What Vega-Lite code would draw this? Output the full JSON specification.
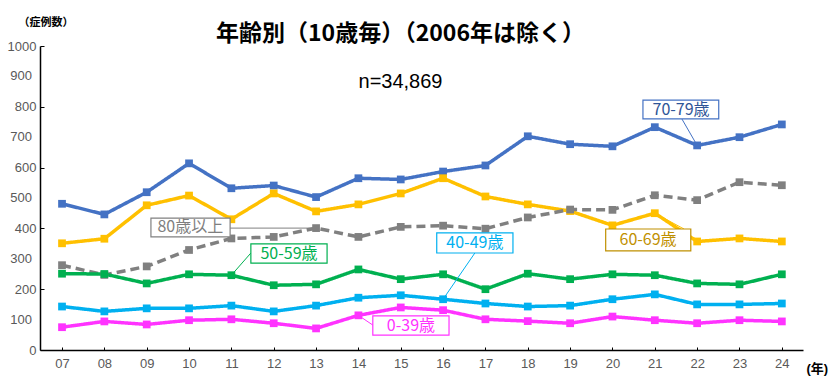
{
  "$schema": "https://vega.github.io/schema/vega-lite/v6.json",
  "width": 763,
  "height": 304,
  "autosize": "none",
  "padding": {"left": 40, "top": 46, "right": 33, "bottom": 32},
  "background": "white",
  "config": {
    "view": {"stroke": null},
    "font": "Liberation Sans, Noto Sans CJK JP",
    "axis": {"labelOverlap": false, "grid": false, "labelFlush": false, "domainColor": "#000000", "domainWidth": 1.5, "tickColor": "#000000", "labelFontSize": 13, "labelColor": "#595959", "labelFont": "Liberation Sans"},
    "axisY": {"tickCount": 10, "tickSize": -4, "labelPadding": 8},
    "axisX": {"tickSize": -3, "labelPadding": 10}
  },
  "title": {
    "text": "年齢別（10歳毎）（2006年は除く）",
    "subtitle": "n=34,869",
    "anchor": "middle",
    "dx": -21,
    "offset": -76,
    "font": "Noto Sans CJK JP",
    "fontSize": 23,
    "fontWeight": "bold",
    "color": "#000000",
    "subtitleFont": "Liberation Sans Narrow, Liberation Sans",
    "subtitleFontSize": 20,
    "subtitleColor": "#000000",
    "subtitlePadding": 26
  },
  "datasets": {
    "series": [
      {"year": 7, "group": "70-79歳", "cases": 481},
      {"year": 8, "group": "70-79歳", "cases": 446},
      {"year": 9, "group": "70-79歳", "cases": 519},
      {"year": 10, "group": "70-79歳", "cases": 614},
      {"year": 11, "group": "70-79歳", "cases": 532},
      {"year": 12, "group": "70-79歳", "cases": 541},
      {"year": 13, "group": "70-79歳", "cases": 503},
      {"year": 14, "group": "70-79歳", "cases": 565},
      {"year": 15, "group": "70-79歳", "cases": 561},
      {"year": 16, "group": "70-79歳", "cases": 587},
      {"year": 17, "group": "70-79歳", "cases": 607},
      {"year": 18, "group": "70-79歳", "cases": 703},
      {"year": 19, "group": "70-79歳", "cases": 677},
      {"year": 20, "group": "70-79歳", "cases": 670},
      {"year": 21, "group": "70-79歳", "cases": 733},
      {"year": 22, "group": "70-79歳", "cases": 673},
      {"year": 23, "group": "70-79歳", "cases": 700},
      {"year": 24, "group": "70-79歳", "cases": 742},
      {"year": 7, "group": "60-69歳", "cases": 351},
      {"year": 8, "group": "60-69歳", "cases": 366},
      {"year": 9, "group": "60-69歳", "cases": 476},
      {"year": 10, "group": "60-69歳", "cases": 508},
      {"year": 11, "group": "60-69歳", "cases": 430},
      {"year": 12, "group": "60-69歳", "cases": 515},
      {"year": 13, "group": "60-69歳", "cases": 456},
      {"year": 14, "group": "60-69歳", "cases": 479},
      {"year": 15, "group": "60-69歳", "cases": 515},
      {"year": 16, "group": "60-69歳", "cases": 565},
      {"year": 17, "group": "60-69歳", "cases": 505},
      {"year": 18, "group": "60-69歳", "cases": 479},
      {"year": 19, "group": "60-69歳", "cases": 457},
      {"year": 20, "group": "60-69歳", "cases": 410},
      {"year": 21, "group": "60-69歳", "cases": 450},
      {"year": 22, "group": "60-69歳", "cases": 357},
      {"year": 23, "group": "60-69歳", "cases": 367},
      {"year": 24, "group": "60-69歳", "cases": 357},
      {"year": 7, "group": "80歳以上", "cases": 279},
      {"year": 8, "group": "80歳以上", "cases": 247},
      {"year": 9, "group": "80歳以上", "cases": 275},
      {"year": 10, "group": "80歳以上", "cases": 329},
      {"year": 11, "group": "80歳以上", "cases": 367},
      {"year": 12, "group": "80歳以上", "cases": 372},
      {"year": 13, "group": "80歳以上", "cases": 401},
      {"year": 14, "group": "80歳以上", "cases": 372},
      {"year": 15, "group": "80歳以上", "cases": 405},
      {"year": 16, "group": "80歳以上", "cases": 409},
      {"year": 17, "group": "80歳以上", "cases": 399},
      {"year": 18, "group": "80歳以上", "cases": 436},
      {"year": 19, "group": "80歳以上", "cases": 462},
      {"year": 20, "group": "80歳以上", "cases": 461},
      {"year": 21, "group": "80歳以上", "cases": 509},
      {"year": 22, "group": "80歳以上", "cases": 493},
      {"year": 23, "group": "80歳以上", "cases": 552},
      {"year": 24, "group": "80歳以上", "cases": 542},
      {"year": 7, "group": "50-59歳", "cases": 251},
      {"year": 8, "group": "50-59歳", "cases": 250},
      {"year": 9, "group": "50-59歳", "cases": 219},
      {"year": 10, "group": "50-59歳", "cases": 249},
      {"year": 11, "group": "50-59歳", "cases": 246},
      {"year": 12, "group": "50-59歳", "cases": 213},
      {"year": 13, "group": "50-59歳", "cases": 216},
      {"year": 14, "group": "50-59歳", "cases": 265},
      {"year": 15, "group": "50-59歳", "cases": 233},
      {"year": 16, "group": "50-59歳", "cases": 249},
      {"year": 17, "group": "50-59歳", "cases": 200},
      {"year": 18, "group": "50-59歳", "cases": 251},
      {"year": 19, "group": "50-59歳", "cases": 233},
      {"year": 20, "group": "50-59歳", "cases": 249},
      {"year": 21, "group": "50-59歳", "cases": 246},
      {"year": 22, "group": "50-59歳", "cases": 219},
      {"year": 23, "group": "50-59歳", "cases": 216},
      {"year": 24, "group": "50-59歳", "cases": 249},
      {"year": 7, "group": "40-49歳", "cases": 143},
      {"year": 8, "group": "40-49歳", "cases": 127},
      {"year": 9, "group": "40-49歳", "cases": 137},
      {"year": 10, "group": "40-49歳", "cases": 137},
      {"year": 11, "group": "40-49歳", "cases": 146},
      {"year": 12, "group": "40-49歳", "cases": 127},
      {"year": 13, "group": "40-49歳", "cases": 146},
      {"year": 14, "group": "40-49歳", "cases": 172},
      {"year": 15, "group": "40-49歳", "cases": 180},
      {"year": 16, "group": "40-49歳", "cases": 167},
      {"year": 17, "group": "40-49歳", "cases": 153},
      {"year": 18, "group": "40-49歳", "cases": 143},
      {"year": 19, "group": "40-49歳", "cases": 146},
      {"year": 20, "group": "40-49歳", "cases": 167},
      {"year": 21, "group": "40-49歳", "cases": 183},
      {"year": 22, "group": "40-49歳", "cases": 150},
      {"year": 23, "group": "40-49歳", "cases": 150},
      {"year": 24, "group": "40-49歳", "cases": 153},
      {"year": 7, "group": "0-39歳", "cases": 75},
      {"year": 8, "group": "0-39歳", "cases": 94},
      {"year": 9, "group": "0-39歳", "cases": 84},
      {"year": 10, "group": "0-39歳", "cases": 98},
      {"year": 11, "group": "0-39歳", "cases": 101},
      {"year": 12, "group": "0-39歳", "cases": 88},
      {"year": 13, "group": "0-39歳", "cases": 71},
      {"year": 14, "group": "0-39歳", "cases": 114},
      {"year": 15, "group": "0-39歳", "cases": 140},
      {"year": 16, "group": "0-39歳", "cases": 131},
      {"year": 17, "group": "0-39歳", "cases": 101},
      {"year": 18, "group": "0-39歳", "cases": 95},
      {"year": 19, "group": "0-39歳", "cases": 88},
      {"year": 20, "group": "0-39歳", "cases": 110},
      {"year": 21, "group": "0-39歳", "cases": 98},
      {"year": 22, "group": "0-39歳", "cases": 88},
      {"year": 23, "group": "0-39歳", "cases": 98},
      {"year": 24, "group": "0-39歳", "cases": 94}
    ],
    "labels": [
      {"group": "70-79歳", "bx1": 20.72, "bx2": 22.51, "by1": 822, "by2": 760, "tx": 21.62, "ty": 791, "lx": 21.64, "ly": 760, "px": 22, "py": 673},
      {"group": "60-69歳", "bx1": 19.84, "bx2": 21.85, "by1": 398, "by2": 326, "tx": 20.84, "ty": 362, "lx": 21.69, "ly": 398, "px": 21, "py": 450},
      {"group": "80歳以上", "bx1": 9.1, "bx2": 10.97, "by1": 434, "by2": 372, "tx": 10.03, "ty": 403, "lx": 10.97, "ly": 401, "px": 13, "py": 401},
      {"group": "50-59歳", "bx1": 11.46, "bx2": 13.26, "by1": 349, "by2": 286, "tx": 12.36, "ty": 317, "lx": 11.46, "ly": 319, "px": 11, "py": 246},
      {"group": "40-49歳", "bx1": 15.85, "bx2": 17.65, "by1": 385, "by2": 319, "tx": 16.75, "ty": 352, "lx": 16.75, "ly": 319, "px": 16, "py": 167},
      {"group": "0-39歳", "bx1": 14.34, "bx2": 16.14, "by1": 112, "by2": 49, "tx": 15.24, "ty": 80, "lx": 14.34, "ly": 82, "px": 14, "py": 114}
    ],
    "oddTicks": [
      {"tick": 100},
      {"tick": 300},
      {"tick": 500},
      {"tick": 700},
      {"tick": 900}
    ]
  },
  "resolve": {"scale": {"strokeDash": "independent"}, "axis": {"x": "independent", "y": "independent"}},
  "layer": [
    {
      "data": {"name": "series"},
      "mark": {"type": "line", "strokeWidth": 3.5, "point": {"shape": "square", "size": 60, "filled": true, "opacity": 1}},
      "encoding": {
        "x": {
          "field": "year", "type": "quantitative",
          "scale": {"domain": [6.48, 24.5], "nice": false, "zero": false},
          "axis": {
            "values": [7, 8, 9, 10, 11, 12, 13, 14, 15, 16, 17, 18, 19, 20, 21, 22, 23, 24],
            "labelExpr": "datum.value < 10 ? '0' + datum.value : '' + datum.value",
            "title": "(年)",
            "titleFont": "Liberation Sans, Noto Sans CJK JP",
            "titleFontSize": 13,
            "titleFontWeight": "bold",
            "titleColor": "#000000",
            "titleAnchor": "end",
            "titleAlign": "left",
            "titleBaseline": "middle",
            "titleX": 766,
            "titleY": 18
          }
        },
        "y": {
          "field": "cases", "type": "quantitative",
          "scale": {"domain": [0, 1000], "nice": false},
          "axis": {
            "values": [0, 100, 200, 300, 400, 500, 600, 700, 800, 900, 1000],
            "tickCount": 10,
            "labelExpr": "'' + datum.value",
            "labelOverlap": false,
            "labelBound": false,
            "labelSeparation": 0,
            "title": "（症例数）",
            "titleFont": "Noto Sans CJK JP",
            "titleFontSize": 11,
            "titleFontWeight": "bold",
            "titleColor": "#000000",
            "titleAngle": 0,
            "titleAlign": "left",
            "titleBaseline": "middle",
            "titleX": -22,
            "titleY": -24
          }
        },
        "color": {
          "field": "group", "type": "nominal",
          "scale": {
            "domain": ["70-79歳", "60-69歳", "80歳以上", "50-59歳", "40-49歳", "0-39歳"],
            "range": ["#4472C4", "#FFC000", "#808080", "#00B050", "#00B0F0", "#FF33FF"]
          },
          "legend": null
        },
        "strokeDash": {
          "field": "group", "type": "nominal",
          "scale": {
            "domain": ["70-79歳", "60-69歳", "80歳以上", "50-59歳", "40-49歳", "0-39歳"],
            "range": [[1, 0], [1, 0], [9, 5], [1, 0], [1, 0], [1, 0]]
          },
          "legend": null
        }
      }
    },
    {
      "data": {"name": "oddTicks"},
      "mark": {"type": "text", "align": "right", "baseline": "middle", "dx": -8, "font": "Liberation Sans", "fontSize": 13, "color": "#595959"},
      "encoding": {
        "x": {"datum": 6.48, "type": "quantitative", "axis": null},
        "y": {"field": "tick", "type": "quantitative", "axis": null},
        "text": {"field": "tick", "type": "quantitative", "format": "d"}
      }
    },
    {
      "data": {"name": "labels"},
      "mark": {"type": "rule", "strokeWidth": 1},
      "encoding": {
        "x": {"field": "lx", "type": "quantitative", "axis": null},
        "y": {"field": "ly", "type": "quantitative", "axis": null},
        "x2": {"field": "px"},
        "y2": {"field": "py"},
        "color": {"field": "group", "type": "nominal", "legend": null}
      }
    },
    {
      "data": {"name": "labels"},
      "mark": {"type": "rect", "fill": "white", "strokeWidth": 1.2},
      "encoding": {
        "x": {"field": "bx1", "type": "quantitative", "axis": null},
        "x2": {"field": "bx2"},
        "y": {"field": "by1", "type": "quantitative", "axis": null},
        "y2": {"field": "by2"},
        "stroke": {
          "field": "group", "type": "nominal",
          "scale": {
            "domain": ["70-79歳", "60-69歳", "80歳以上", "50-59歳", "40-49歳", "0-39歳"],
            "range": ["#4472C4", "#BF9000", "#808080", "#00B050", "#00B0F0", "#FF33FF"]
          },
          "legend": null
        },
        "strokeDash": {
          "field": "group", "type": "nominal",
          "scale": {
            "domain": ["70-79歳", "60-69歳", "80歳以上", "50-59歳", "40-49歳", "0-39歳"],
            "range": [[1, 0], [1, 0], [3, 2], [1, 0], [1, 0], [1, 0]]
          },
          "legend": null
        }
      }
    },
    {
      "data": {"name": "labels"},
      "mark": {"type": "text", "font": "Liberation Sans Narrow, Noto Sans CJK JP", "fontSize": 16, "align": "center", "baseline": "middle"},
      "encoding": {
        "x": {"field": "tx", "type": "quantitative", "axis": null},
        "y": {"field": "ty", "type": "quantitative", "axis": null},
        "text": {"field": "group"},
        "fill": {
          "field": "group", "type": "nominal",
          "scale": {
            "domain": ["70-79歳", "60-69歳", "80歳以上", "50-59歳", "40-49歳", "0-39歳"],
            "range": ["#2F5597", "#BF9000", "#7F7F7F", "#00B050", "#00B0F0", "#FF33FF"]
          },
          "legend": null
        }
      }
    }
  ]
}
